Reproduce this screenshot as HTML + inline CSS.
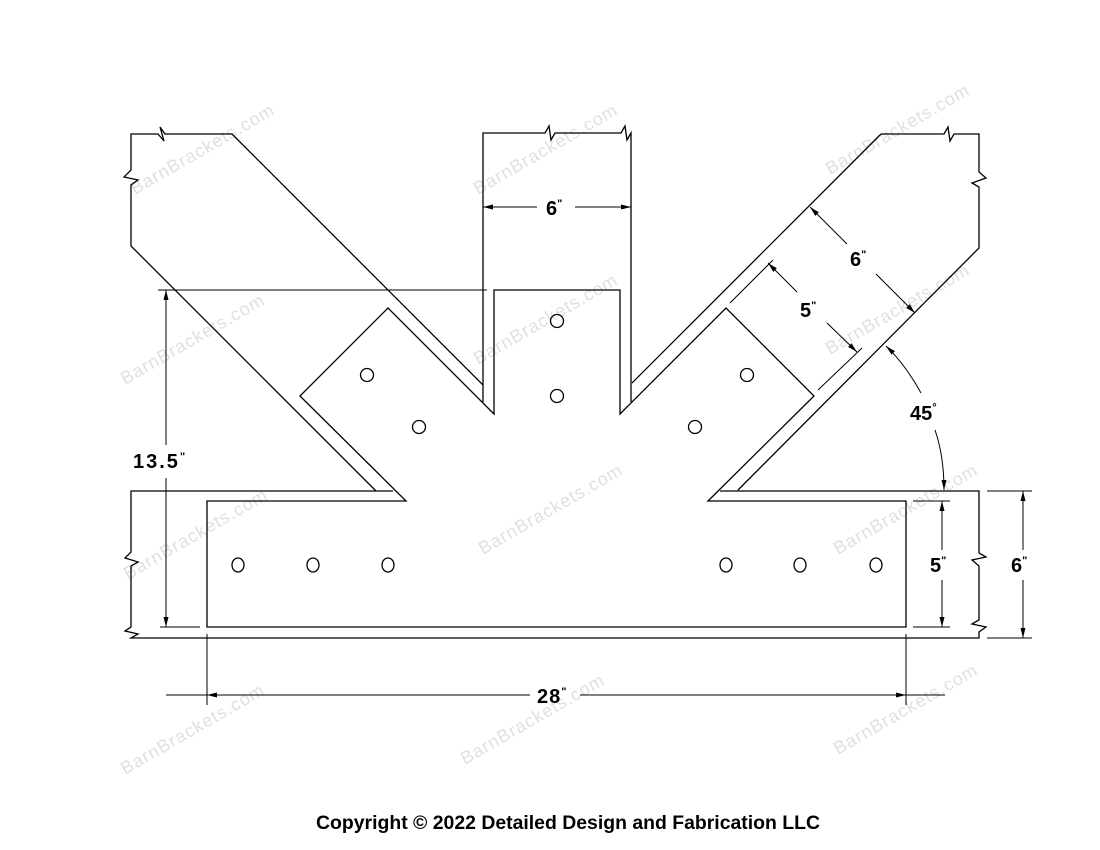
<!DOCTYPE html>
<html><head><meta charset="utf-8"><style>
html,body{margin:0;padding:0;background:#fff;}
svg{display:block;}
.l{stroke:#000;stroke-width:1.3;fill:none;}
.t{font-family:"Liberation Sans",sans-serif;font-weight:bold;font-size:20px;fill:#000;}
.w{font-family:"Liberation Sans",sans-serif;font-size:18px;fill:#e0e0e0;letter-spacing:1px;}
</style></head><body>
<svg width="1100" height="850" viewBox="0 0 1100 850" xmlns="http://www.w3.org/2000/svg">
<defs>
<marker id="a" viewBox="0 0 10 6" refX="10" refY="3" markerWidth="10" markerHeight="6" orient="auto" markerUnits="userSpaceOnUse"><path d="M0,0.5 L10,3 L0,5.5z" fill="#000"/></marker>
</defs>
<g class="w">
<text transform="translate(135,195) rotate(-30)">BarnBrackets.com</text>
<text transform="translate(478,195) rotate(-30)">BarnBrackets.com</text>
<text transform="translate(830,175) rotate(-30)">BarnBrackets.com</text>
<text transform="translate(125,385) rotate(-30)">BarnBrackets.com</text>
<text transform="translate(478,365) rotate(-30)">BarnBrackets.com</text>
<text transform="translate(830,355) rotate(-30)">BarnBrackets.com</text>
<text transform="translate(128,580) rotate(-30)">BarnBrackets.com</text>
<text transform="translate(483,555) rotate(-30)">BarnBrackets.com</text>
<text transform="translate(838,555) rotate(-30)">BarnBrackets.com</text>
<text transform="translate(125,775) rotate(-30)">BarnBrackets.com</text>
<text transform="translate(465,765) rotate(-30)">BarnBrackets.com</text>
<text transform="translate(838,755) rotate(-30)">BarnBrackets.com</text>
</g>
<g class="l">
<path d="M232,134 L483,385"/>
<path d="M232,134 H165 L160,127 L164,141 L158,134 H131 V170 L124,177 L138,180 L131,185 V246 L376,491"/>
<path d="M483,402 V133 H545 L549,126 L551,140 L555,133 H621 L625,126 L627,140 L631,133 V402"/>
<path d="M881,134 L632,383"/>
<path d="M881,134 H944 L948,127 L950,141 L954,134 H979 V172 L986,178 L972,183 L979,187 V248 L738,490"/>
<path d="M393,491 H131 V552 L125,558 L138,562 L131,566 V627 L125,631 L138,634 L131,638 H979 V632 L986,627 L972,624 L979,620 V566 L972,560 L986,557 L979,553 V491 H720"/>
<path d="M708,501 H906 V627 H207 V501 H406 L300,396 L388,308 L494,414 V290 H620 V414 L726,308 L814,396 Z"/>
<circle cx="557" cy="321" r="6.5"/><circle cx="557" cy="396" r="6.5"/>
<circle cx="367" cy="375" r="6.5"/><circle cx="419" cy="427" r="6.5"/>
<circle cx="747" cy="375" r="6.5"/><circle cx="695" cy="427" r="6.5"/>
<ellipse cx="238" cy="565" rx="6" ry="7"/><ellipse cx="313" cy="565" rx="6" ry="7"/><ellipse cx="388" cy="565" rx="6" ry="7"/>
<ellipse cx="726" cy="565" rx="6" ry="7"/><ellipse cx="800" cy="565" rx="6" ry="7"/><ellipse cx="876" cy="565" rx="6" ry="7"/>
</g>
<g stroke="#000" stroke-width="1" fill="none">
<path d="M158,290 H487"/>
<path d="M160,627 H200"/>
<path d="M166,445 V290" marker-end="url(#a)"/>
<path d="M166,478 V627" marker-end="url(#a)"/>
<path d="M537,207 H483" marker-end="url(#a)"/>
<path d="M575,207 H631" marker-end="url(#a)"/>
<path d="M847,244 L810,207" marker-end="url(#a)"/>
<path d="M876,274 L915,313" marker-end="url(#a)"/>
<path d="M730,303 L773,260"/>
<path d="M818,390 L862,348"/>
<path d="M797,292 L768,263" marker-end="url(#a)"/>
<path d="M827,323 L857,352" marker-end="url(#a)"/>
<path d="M921,393 Q905,364 886,346" marker-end="url(#a)"/>
<path d="M935,430 Q944,456 944,490" marker-end="url(#a)"/>
<path d="M913,501 H950"/><path d="M913,627 H950"/>
<path d="M942,550 V501" marker-end="url(#a)"/>
<path d="M942,580 V627" marker-end="url(#a)"/>
<path d="M987,491 H1032"/><path d="M987,638 H1032"/>
<path d="M1023,550 V491" marker-end="url(#a)"/>
<path d="M1023,580 V638" marker-end="url(#a)"/>
<path d="M207,634 V705"/><path d="M906,634 V705"/>
<path d="M530,695 H166"/><path d="M530,695 H207" marker-end="url(#a)"/>
<path d="M580,695 H945"/><path d="M580,695 H906" marker-end="url(#a)"/>
</g>
<g class="t">
<text x="133" y="468" letter-spacing="2">13.5<tspan font-size="11" dy="-8">"</tspan></text>
<text x="546" y="215">6<tspan font-size="11" dy="-8">"</tspan></text>
<text x="850" y="266">6<tspan font-size="11" dy="-8">"</tspan></text>
<text x="800" y="317">5<tspan font-size="11" dy="-8">"</tspan></text>
<text x="910" y="420">45<tspan font-size="11" dy="-9">°</tspan></text>
<text x="930" y="572">5<tspan font-size="11" dy="-8">"</tspan></text>
<text x="1011" y="572">6<tspan font-size="11" dy="-8">"</tspan></text>
<text x="537" y="703" letter-spacing="1">28<tspan font-size="11" dy="-8">"</tspan></text>
</g>
<text x="316" y="829" font-family="Liberation Sans, sans-serif" font-weight="bold" font-size="19" textLength="504" lengthAdjust="spacingAndGlyphs" fill="#000">Copyright © 2022 Detailed Design and Fabrication LLC</text>
</svg>
</body></html>
